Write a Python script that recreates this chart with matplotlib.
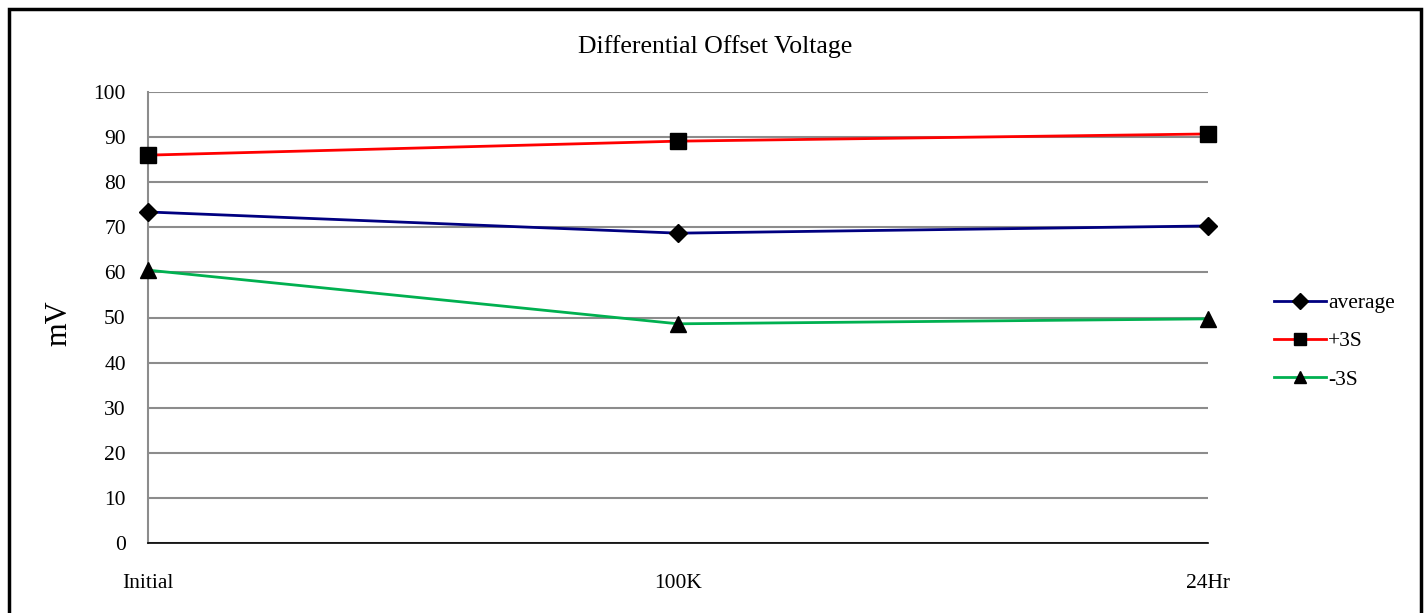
import matplotlib
matplotlib.use("Agg")
import matplotlib.pyplot as plt
from matplotlib.patches import Rectangle

plt.rcParams['font.family'] = ['Liberation Serif', 'DejaVu Serif']

# readings per stage
stages = ["Initial", "100K", "24Hr"]
average = [73.4, 68.7, 70.3]
plus_3s = [86.0, 89.1, 90.7]
minus_3s = [60.5, 48.6, 49.7]

fig = plt.figure(figsize=(14.24, 6.13), dpi=100)
ax = fig.add_axes([148/1424, 70/613, 1060/1424, 451/613])

x = list(range(len(stages)))
ax.plot(x, average, color="#000080", lw=2, marker="D", ms=9, mfc="black", mec="black", label="average", clip_on=False, zorder=3)
ax.plot(x, plus_3s, color="#ff0000", lw=2, marker="s", ms=11, mfc="black", mec="black", label="+3S", clip_on=False, zorder=3)
ax.plot(x, minus_3s, color="#00b050", lw=2, marker="^", ms=11, mfc="black", mec="black", label="-3S", clip_on=False, zorder=3)

ax.set_xlim(0, 2)
ax.set_ylim(0, 100)
ax.set_yticks(range(0, 101, 10))
ax.set_xticks(x)
ax.set_xticklabels(stages)
ax.grid(axis="y", color="#8c8c8c", lw=1.5)
ax.set_axisbelow(True)
for side in ["top", "right"]:
    ax.spines[side].set_visible(False)
ax.spines["left"].set_color("#8c8c8c")
ax.spines["left"].set_linewidth(1.5)
ax.spines["bottom"].set_color("black")
ax.spines["bottom"].set_linewidth(1.2)
ax.tick_params(axis="both", length=0, labelsize=15.5)
ax.tick_params(axis="y", pad=16)
ax.tick_params(axis="x", pad=22)

fig.text(59/1424, 1 - 323/613, "mV", fontsize=22, rotation=90, ha="center", va="center")
fig.text(715/1424, 1 - 47/613, "Differential Offset Voltage", fontsize=18.5, ha="center", va="center")

ax.legend(loc="center left", bbox_to_anchor=(1.044, 0.447), frameon=False,
          fontsize=15.5, handlelength=2.4, labelspacing=0.85, handletextpad=0.1,
          markerscale=0.85)

# outer chart border
fig.add_artist(Rectangle((9/1424, -0.05), 1412/1424, 1.05 - 9/613, transform=fig.transFigure,
                         fill=False, edgecolor="black", lw=2.5))

fig.savefig("out.png", dpi=100)
